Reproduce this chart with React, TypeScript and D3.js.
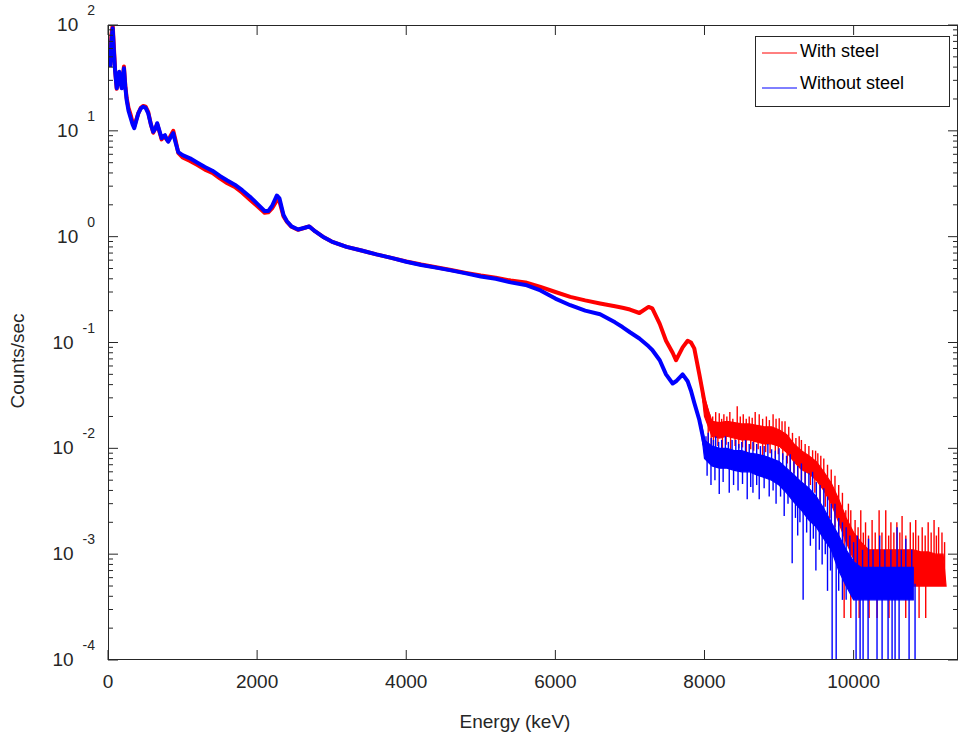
import React from 'react'
import * as d3 from 'd3'

// Spectrum (counts/sec vs keV), smooth part
const energy = [
  30, 45, 63, 80, 95, 117, 135, 151, 168, 184, 200, 214, 232, 250, 275, 300, 330, 352, 380, 406,
  440, 473, 505, 540, 575, 607, 635, 660, 690, 719, 740, 764, 785, 808, 840, 875, 905, 942, 1000,
  1100, 1200, 1300, 1400, 1500, 1600, 1700, 1800, 1900, 2000, 2100, 2150, 2200, 2264, 2300, 2354,
  2400, 2461, 2550, 2650, 2700, 2780, 2900, 3000, 3200, 3400, 3600, 3800, 4000, 4200, 4400, 4600,
  4800, 5000, 5200, 5400, 5600, 5800, 6000, 6200, 6400, 6600, 6800, 6900, 7000, 7127, 7250, 7300,
  7400, 7484, 7573, 7618, 7707, 7774, 7819, 7863, 7931, 7998, 8050,
]
const withSteel = [
  42, 80, 100, 60, 38, 25, 30, 35, 30, 25.5, 33, 40.5, 27, 20.5, 16.5, 14.5, 12, 11, 12.8, 14.6,
  16.5, 17.2, 16.9, 15, 11.5, 9.6, 10.5, 11.6, 9.8, 8.3, 8.7, 8.9, 8.3, 8.0, 9.0, 10, 8.2, 6.2, 5.6,
  5.2, 4.75, 4.3, 4.0, 3.55, 3.2, 2.95, 2.6, 2.25, 1.95, 1.68, 1.7, 1.85, 2.2, 2.15, 1.55,
  1.38, 1.24, 1.16, 1.22, 1.25, 1.12, 0.98, 0.9, 0.8, 0.74, 0.68, 0.63, 0.582, 0.545, 0.515, 0.485,
  0.455, 0.43, 0.41, 0.385, 0.37, 0.335, 0.3, 0.27, 0.25, 0.234, 0.22, 0.213, 0.205, 0.19, 0.217, 0.21,
  0.15, 0.104, 0.08, 0.068, 0.09, 0.104, 0.1, 0.088, 0.05, 0.028, 0.02,
]
const withoutSteel = [
  40, 70, 93, 55, 37, 25.3, 30, 36.2, 30, 25.3, 32, 39, 26, 19.6, 15.5, 13.5, 11.5, 10.6, 12.5, 14.6,
  16.3, 16.9, 16.5, 14.6, 11.5, 9.8, 10.5, 11.8, 10, 8.5, 8.9, 9.1, 8.4, 7.9, 8.7, 9.5, 7.8, 6.3, 5.9,
  5.5, 5.0, 4.55, 4.2, 3.75, 3.4, 3.1, 2.75, 2.4, 2.05, 1.75, 1.75, 1.95, 2.45, 2.3, 1.6,
  1.4, 1.25, 1.17, 1.22, 1.25, 1.12, 0.98, 0.9, 0.8, 0.74, 0.68, 0.63, 0.58, 0.54, 0.51, 0.48,
  0.45, 0.42, 0.4, 0.37, 0.35, 0.31, 0.26, 0.225, 0.2, 0.185, 0.155, 0.14, 0.125, 0.109, 0.092, 0.085,
  0.068, 0.05, 0.041, 0.043, 0.05, 0.043, 0.035, 0.027, 0.0185, 0.011, 0.009,
]

// Noisy high-energy part: core of the noise band (low / high edge)
const tailEnergy = [
  7960, 8000, 8100, 8200, 8300, 8400, 8500, 8600, 8700, 8800, 8900, 9000, 9100, 9200, 9300, 9400,
  9500, 9600, 9700, 9800, 9900, 10000, 10100, 10200, 10300, 10400, 10500, 10600, 10700, 10800,
  10900, 11000, 11100, 11200, 11240,
]
const withSteelTailLo = [
  0.036, 0.02, 0.013, 0.0125, 0.013, 0.0125, 0.012, 0.012, 0.0115, 0.011, 0.011, 0.0105, 0.0092,
  0.0075, 0.0063, 0.0058, 0.005, 0.004, 0.003, 0.002, 0.0013, 0.0009, 0.0006, 0.0005, 0.0005,
  0.0005, 0.0005, 0.0005, 0.0005, 0.0005, 0.0005, 0.0005, 0.0005, 0.0005, 0.0005,
]
const withSteelTailHi = [
  0.042, 0.03, 0.018, 0.0175, 0.018, 0.0175, 0.017, 0.017, 0.0165, 0.016, 0.016, 0.015, 0.0135,
  0.011, 0.0095, 0.0085, 0.0075, 0.006, 0.0047, 0.0033, 0.0022, 0.0016, 0.0013, 0.0011, 0.0011,
  0.0011, 0.0011, 0.0011, 0.0011, 0.0011, 0.00105, 0.00105, 0.001, 0.001, 0.0005,
]
const withoutSteelTailLo = [
  0.014, 0.008, 0.0068, 0.0065, 0.0065, 0.0062, 0.006, 0.006, 0.0056, 0.0053, 0.005, 0.0045, 0.0038,
  0.0031, 0.0026, 0.0021, 0.0018, 0.0014, 0.0011, 0.0007, 0.0005, 0.00037, 0.00037, 0.00037,
  0.00037, 0.00037, 0.00037, 0.00037, 0.00037, 0.00037,
]
const withoutSteelTailHi = [
  0.017, 0.012, 0.0105, 0.01, 0.01, 0.0095, 0.0095, 0.009, 0.0088, 0.0085, 0.008, 0.0075, 0.0065,
  0.0056, 0.0048, 0.0042, 0.0035, 0.0027, 0.002, 0.0015, 0.0011, 0.00085, 0.00075, 0.00075,
  0.00075, 0.00075, 0.00075, 0.00075, 0.00075, 0.00075,
]

// Single-channel spikes out of the band core [keV, counts/sec]; 0 = empty channel
const withSteelSpikes: [number, number][] = [
  [8030, 0.024], [8070, 0.021], [8110, 0.02], [8150, 0.022], [8198, 0.0215], [8230, 0.019],
  [8260, 0.021], [8300, 0.02], [8340, 0.022], [8380, 0.019], [8439, 0.025], [8480, 0.02],
  [8520, 0.021], [8560, 0.019], [8600, 0.02], [8640, 0.0195], [8680, 0.022], [8734, 0.021],
  [8780, 0.019], [8830, 0.02], [8870, 0.0185], [8920, 0.021], [8960, 0.019], [9002, 0.0192],
  [9040, 0.018], [9080, 0.018], [9130, 0.016], [9180, 0.014], [9226, 0.0125], [9270, 0.013],
  [9300, 0.012], [9350, 0.011], [9400, 0.0105], [9450, 0.0096], [9490, 0.0095], [9520, 0.009],
  [9560, 0.0085], [9600, 0.008], [9650, 0.007], [9700, 0.0063], [9750, 0.0055], [9800, 0.0045],
  [9850, 0.0038], [9895, 0.0026], [9930, 0.003], [9962, 0.0026],
  [10020, 0.0021], [10060, 0.0018], [10096, 0.0026], [10130, 0.0016], [10160, 0.002], [10200, 0.0015],
  [10248, 0.0021], [10290, 0.0016], [10342, 0.0026], [10380, 0.0016], [10431, 0.0026], [10470, 0.0015],
  [10500, 0.002], [10540, 0.0016], [10580, 0.002], [10620, 0.0016], [10650, 0.0023], [10700, 0.0015],
  [10760, 0.002], [10800, 0.0016], [10833, 0.0021], [10870, 0.0015], [10920, 0.0018], [10960, 0.0015],
  [11000, 0.002], [11040, 0.0016], [11079, 0.0021], [11110, 0.0015], [11140, 0.0018], [11185, 0.0016],
  [11220, 0.0013],
  [8050, 0.011], [8090, 0.0105], [8120, 0.0095], [8180, 0.0105], [8240, 0.01], [8290, 0.0108],
  [8350, 0.0095], [8410, 0.0105], [8460, 0.01], [8510, 0.0102], [8560, 0.009], [8620, 0.0098],
  [8660, 0.0095], [8720, 0.0098], [8780, 0.0085], [8820, 0.0092], [8880, 0.009], [8950, 0.008],
  [8990, 0.0088], [9050, 0.0078], [9110, 0.0072], [9150, 0.006], [9200, 0.0058], [9250, 0.0052],
  [9300, 0.005], [9350, 0.0045], [9420, 0.0045], [9480, 0.0038], [9550, 0.003], [9620, 0.0028],
  [9680, 0.0022], [9750, 0.0018], [9800, 0.0014], [9873, 0.00025], [9962, 0.00025], [10074, 0.00025],
  [10208, 0.00025], [10315, 0.00025], [10475, 0.00025], [10699, 0.00025], [10878, 0.00025],
  [10967, 0.00025],
]
const withoutSteelSpikes: [number, number][] = [
  [8020, 0.013], [8050, 0.014], [8090, 0.0125], [8120, 0.012], [8150, 0.013], [8190, 0.0115],
  [8230, 0.012], [8280, 0.013], [8320, 0.0115], [8370, 0.012], [8420, 0.012], [8460, 0.011],
  [8500, 0.0115], [8550, 0.012], [8600, 0.011], [8650, 0.0115], [8700, 0.011], [8750, 0.0105],
  [8800, 0.0105], [8850, 0.011], [8900, 0.0098], [8950, 0.0095], [9000, 0.01], [9050, 0.009],
  [9100, 0.0085], [9150, 0.0088], [9200, 0.0075], [9250, 0.0068], [9300, 0.0072], [9350, 0.006],
  [9400, 0.0058], [9450, 0.006], [9500, 0.0048], [9550, 0.0045], [9600, 0.0042], [9650, 0.0035],
  [9700, 0.003], [9750, 0.003], [9800, 0.0022], [9850, 0.002], [9900, 0.0018], [9950, 0.0015],
  [10000, 0.0013], [10050, 0.0015], [10120, 0.0011], [10200, 0.0014], [10260, 0.0011], [10350, 0.0015],
  [10420, 0.0011], [10500, 0.0011], [10583, 0.0018], [10640, 0.0011], [10700, 0.0014], [10780, 0.0011],
  [8035, 0.0055], [8087, 0.0045], [8140, 0.005], [8198, 0.0037], [8250, 0.0048], [8332, 0.0038],
  [8390, 0.0045], [8450, 0.004], [8510, 0.0046], [8573, 0.0033], [8620, 0.0043], [8650, 0.0038],
  [8700, 0.0045], [8734, 0.0033], [8800, 0.0042], [8868, 0.0035], [8920, 0.004], [8960, 0.003],
  [9020, 0.0035], [9069, 0.0023], [9120, 0.003], [9176, 0.00082], [9220, 0.0022], [9250, 0.0015],
  [9280, 0.002], [9323, 0.00037], [9370, 0.0016], [9420, 0.0012], [9460, 0.0014], [9494, 0.0007],
  [9540, 0.0011], [9578, 0.0008], [9620, 0.001], [9650, 0.00045], [9690, 0.0007], [9712, 0],
  [9766, 0], [9800, 0.00045], [9850, 0.00037], [9900, 0.00037], [10033, 0], [10087, 0], [10127, 0],
  [10194, 0], [10314, 0], [10382, 0], [10462, 0], [10516, 0], [10556, 0], [10610, 0], [10744, 0],
  [10824, 0],
]

const xTicks = [0, 2000, 4000, 6000, 8000, 10000]
const yExponents = [-4, -3, -2, -1, 0, 1, 2]
const seriesNames = ['With steel', 'Without steel']

const W = 959
const H = 738
const left = 108
const right = 958
const top = 25
const bottom = 660
const font = '"Liberation Sans", Arial, Helvetica, sans-serif'
const axisColor = '#262626'

export default function App() {
  const x = d3.scaleLinear().domain([0, 11400]).range([left, right])
  const y = d3.scaleLog().domain([1e-4, 1e2]).range([bottom, top])
  const yc = (v: number) => y(Math.max(v, 1e-6))

  const midLine = (vals: number[]) =>
    d3
      .line<number>()
      .x((_, i) => x(energy[i]))
      .y((d) => yc(d))(vals) || ''

  const band = (lo: number[], hi: number[]) =>
    d3
      .area<number>()
      .x((_, i) => x(tailEnergy[i]))
      .y0((d) => yc(d))
      .y1((_, i) => yc(hi[i]))(lo) || ''

  // spikes start from the middle of the band core (in log space)
  const spikeLines = (spikes: [number, number][], lo: number[], hi: number[]) => {
    const n = lo.length
    const mid = d3
      .scaleLinear()
      .domain(tailEnergy.slice(0, n))
      .range(lo.map((l, i) => (Math.log10(l) + Math.log10(hi[i])) / 2))
      .clamp(true)
    return spikes.map(([e, v]) => ({ x: x(e), y0: y(Math.pow(10, mid(e))), y1: yc(v) }))
  }

  const series = [
    {
      name: seriesNames[0],
      color: '#ff0000',
      mid: withSteel,
      lo: withSteelTailLo,
      hi: withSteelTailHi,
      spikes: withSteelSpikes,
    },
    {
      name: seriesNames[1],
      color: '#0000ff',
      mid: withoutSteel,
      lo: withoutSteelTailLo,
      hi: withoutSteelTailHi,
      spikes: withoutSteelSpikes,
    },
  ]

  const minorTicks: number[] = []
  for (let p = -4; p < 2; p++) {
    for (let k = 2; k <= 9; k++) minorTicks.push(k * Math.pow(10, p))
  }

  return (
    <svg
      width={W}
      height={H}
      style={{ position: 'absolute', left: 0, top: 0, background: '#fff' }}
      fontFamily={font}
    >
      <defs>
        <clipPath id="plot-area">
          <rect x={left} y={top} width={right - left} height={bottom - top} />
        </clipPath>
      </defs>

      <g clipPath="url(#plot-area)">
        {series.map((s) => (
          <g key={s.name}>
            <path d={midLine(s.mid)} fill="none" stroke={s.color} strokeWidth={4} strokeLinejoin="round" />
            <path d={band(s.lo, s.hi)} fill={s.color} stroke={s.color} strokeWidth={1.2} />
            {spikeLines(s.spikes, s.lo, s.hi).map((sp, i) => (
              <line key={i} x1={sp.x} x2={sp.x} y1={sp.y0} y2={sp.y1} stroke={s.color} strokeWidth={1.4} />
            ))}
          </g>
        ))}
      </g>

      {/* axes box */}
      <rect
        x={left + 0.5}
        y={top + 0.5}
        width={right - left - 1}
        height={bottom - top - 1}
        fill="none"
        stroke={axisColor}
        strokeWidth={1}
      />

      {/* x ticks + labels */}
      {xTicks.map((t) => (
        <g key={'x' + t}>
          <line x1={x(t)} x2={x(t)} y1={bottom} y2={bottom - 10} stroke={axisColor} />
          <line x1={x(t)} x2={x(t)} y1={top} y2={top + 10} stroke={axisColor} />
          <text x={x(t)} y={688} textAnchor="middle" fontSize={19} fill={axisColor}>
            {t}
          </text>
        </g>
      ))}

      {/* y ticks + labels */}
      {yExponents.map((p) => {
        const yy = y(Math.pow(10, p))
        return (
          <g key={'y' + p}>
            <line x1={left} x2={left + 10} y1={yy} y2={yy} stroke={axisColor} />
            <line x1={right} x2={right - 10} y1={yy} y2={yy} stroke={axisColor} />
            <text x={95} y={yy + 6} textAnchor="end" fontSize={19} fill={axisColor}>
              10
              <tspan dx={9} dy={-16} fontSize={14}>
                {p}
              </tspan>
            </text>
          </g>
        )
      })}
      {minorTicks.map((v, i) => (
        <g key={'m' + i}>
          <line x1={left} x2={left + 5} y1={y(v)} y2={y(v)} stroke={axisColor} />
          <line x1={right} x2={right - 5} y1={y(v)} y2={y(v)} stroke={axisColor} />
        </g>
      ))}

      {/* axis titles */}
      <text x={515} y={728} textAnchor="middle" fontSize={19} fill={axisColor}>
        Energy (keV)
      </text>
      <text
        transform="translate(24,361) rotate(-90)"
        textAnchor="middle"
        fontSize={19}
        fill={axisColor}
      >
        Counts/sec
      </text>

      {/* legend */}
      <rect x={755.5} y={36.5} width={194} height={70} fill="#fff" stroke={axisColor} />
      {series.map((s, i) => (
        <g key={'l' + s.name}>
          <line x1={762} x2={797} y1={53 + i * 35} y2={53 + i * 35} stroke={s.color} strokeWidth={1} />
          <text x={800} y={57 + i * 32} fontSize={18} fill="#000">
            {s.name}
          </text>
        </g>
      ))}
    </svg>
  )
}
